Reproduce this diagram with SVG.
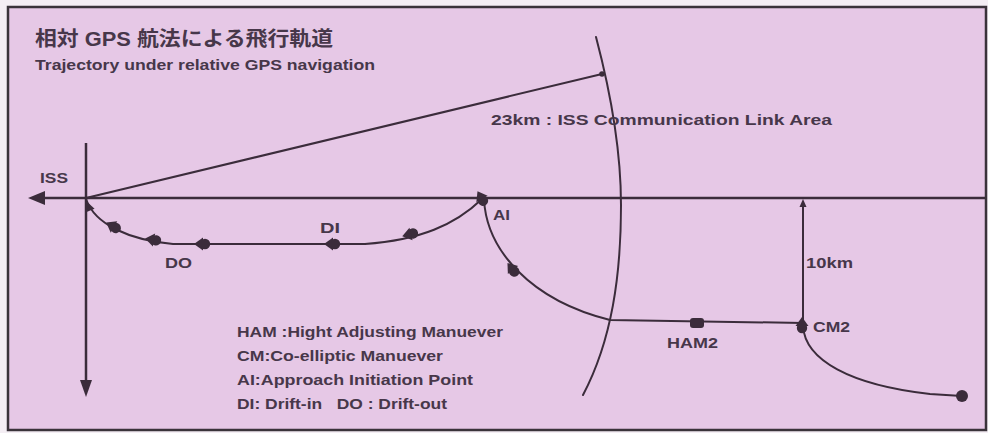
<svg xmlns="http://www.w3.org/2000/svg" xmlns:xlink="http://www.w3.org/1999/xlink" width="988" height="433" viewBox="0 0 988 433">
<style>
  .ln{fill:none;stroke:#3b2c3b;stroke-width:2;stroke-linecap:round;stroke-linejoin:round}
  .ax{fill:none;stroke:#3b2c3b;stroke-width:2.5}
  .fl{fill:#3b2c3b;stroke:none}
  .t{font-family:"Liberation Sans",Arial,sans-serif;font-weight:bold;fill:#47374a;font-size:15px}
  .tt{font-family:"Liberation Sans","Noto Sans CJK JP",sans-serif;font-weight:bold;fill:#47374a;font-size:20px}
</style>
<defs>
  <g id="mk" class="fl"><circle cx="-2" cy="0" r="5.2"/><path d="M9,0 L0,-6.5 L0,6.5 Z"/></g>
  <path id="ah" class="fl" d="M6,0 L-5,-5 L-5,5 Z"/>
</defs>
<rect x="0" y="0" width="988" height="433" fill="#f4eef4"/>
<rect id="frame" x="8" y="7" width="978" height="423" fill="#e6c8e6" stroke="#3a333a" stroke-width="2.5"/>
<g id="title">
  <text class="tt" x="35" y="46" textLength="298" lengthAdjust="spacingAndGlyphs">相対 GPS 航法による飛行軌道</text>
  <text class="t" x="35" y="70" font-size="14" textLength="340" lengthAdjust="spacingAndGlyphs">Trajectory under relative GPS navigation</text>
</g>
<g id="axes">
  <line class="ax" x1="40" y1="198" x2="985" y2="198"/>
  <path class="fl" d="M28,198 L45,191 L45,205 Z"/>
  <line class="ax" x1="86" y1="143" x2="86" y2="385"/>
  <path class="fl" d="M86,397 L80,380 L92,380 Z"/>
</g>
<g id="connectors">
  <path id="range-line" class="ln" d="M86,198 L602,74"/>
  <circle class="fl" cx="602" cy="74" r="2.8"/>
  <path id="link-area" class="ln" d="M596,37 C610,90 621,150 621,205 C621,275 612,340 583,395"/>
  <path id="traj-end-cm2" class="ln" d="M962,396 L930,394 C850,385 805,360 803,326"/>
  <path id="traj-cm2-ai" class="ln" d="M803,323 L610,320 C530,300 487,250 484,200"/>
  <path id="traj-ai-di" class="ln" d="M482,199 C455,225 420,240 365,244 L173,244 C130,240 95,225 86,199"/>
  <path id="ten-km" class="ln" d="M803,323 L803,204"/>
  <path class="fl" d="M803,199 L799.5,207 L806.5,207 Z"/>
</g>
<g id="node-iss"><text class="t" x="40" y="183" font-size="14" textLength="28" lengthAdjust="spacingAndGlyphs">ISS</text></g>
<g id="markers">
  <use xlink:href="#ah" transform="translate(88,206) rotate(-113)"/>
  <use xlink:href="#mk" transform="translate(114,227) rotate(-150)"/>
  <use xlink:href="#mk" transform="translate(154,240) rotate(-170)"/>
  <use xlink:href="#mk" transform="translate(203,244) rotate(180)"/>
  <use xlink:href="#mk" transform="translate(411,234) rotate(166)"/>
  <use xlink:href="#mk" transform="translate(513,270) rotate(-128)"/>
</g>
<g id="node-do"><text class="t" x="165" y="268" textLength="27" lengthAdjust="spacingAndGlyphs">DO</text></g>
<g id="node-di">
  <use xlink:href="#mk" transform="translate(333,244) rotate(180)"/>
  <text class="t" x="320" y="233" textLength="20" lengthAdjust="spacingAndGlyphs">DI</text>
</g>
<g id="node-ai">
  <use xlink:href="#mk" transform="translate(482,199) rotate(-120)"/>
  <text class="t" x="493" y="220" textLength="17" lengthAdjust="spacingAndGlyphs">AI</text>
</g>
<g id="node-ham2">
  <rect class="fl" x="690" y="318" width="14" height="10" rx="3"/>
  <text class="t" x="667" y="348" textLength="51" lengthAdjust="spacingAndGlyphs">HAM2</text>
</g>
<g id="node-cm2">
  <use xlink:href="#mk" transform="translate(802,326) rotate(-90)"/>
  <text class="t" x="813" y="332" textLength="37" lengthAdjust="spacingAndGlyphs">CM2</text>
</g>
<g id="node-end"><circle class="fl" cx="962" cy="396" r="6"/></g>
<g id="label-10km"><text class="t" x="806" y="268" textLength="47" lengthAdjust="spacingAndGlyphs">10km</text></g>
<g id="label-23km"><text class="t" x="491" y="125" textLength="341" lengthAdjust="spacingAndGlyphs">23km : ISS Communication Link Area</text></g>
<g id="legend">
  <text class="t" x="237" y="337" textLength="266" lengthAdjust="spacingAndGlyphs">HAM :Hight Adjusting Manuever</text>
  <text class="t" x="237" y="361" textLength="206" lengthAdjust="spacingAndGlyphs">CM:Co-elliptic Manuever</text>
  <text class="t" x="237" y="385" textLength="236" lengthAdjust="spacingAndGlyphs">AI:Approach Initiation Point</text>
  <text class="t" x="237" y="409" textLength="210" lengthAdjust="spacingAndGlyphs" xml:space="preserve">DI: Drift-in   DO : Drift-out</text>
</g>
</svg>
